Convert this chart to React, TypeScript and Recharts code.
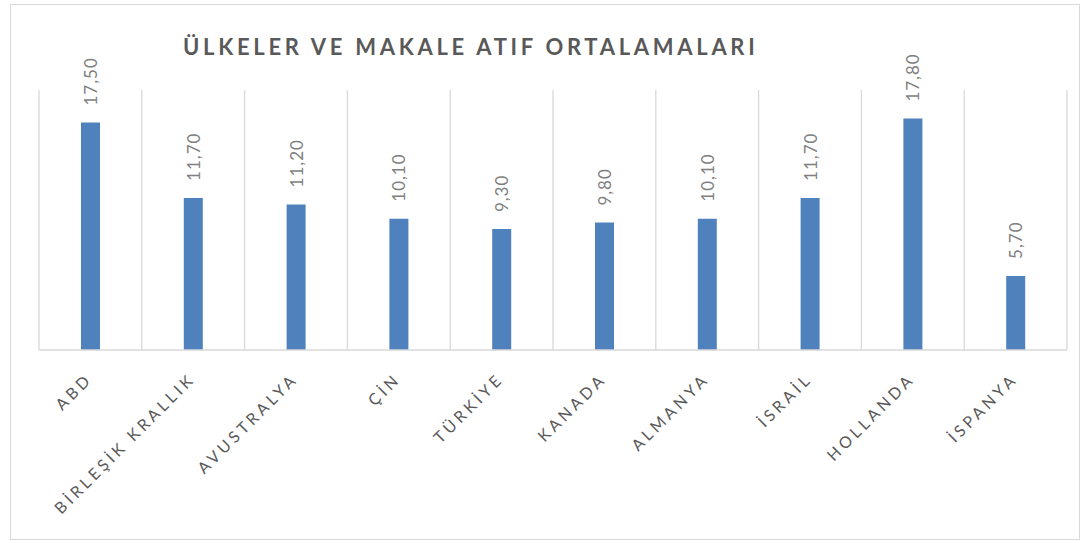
import { BarChart, Bar, XAxis, YAxis, CartesianGrid, LabelList } from "recharts";

const countries = [
  "ABD",
  "BİRLEŞİK KRALLIK",
  "AVUSTRALYA",
  "ÇİN",
  "TÜRKİYE",
  "KANADA",
  "ALMANYA",
  "İSRAİL",
  "HOLLANDA",
  "İSPANYA",
];
const averages = [17.5, 11.7, 11.2, 10.1, 9.3, 9.8, 10.1, 11.7, 17.8, 5.7];

const data = countries.map((name, i) => ({ name, value: averages[i] }));

const FONT = "Lato, 'Open Sans', sans-serif";

const CountryTick = ({ x, y, payload }: any) => (
  <text
    x={x + 3}
    y={y + 22}
    transform={`rotate(-45, ${x + 3}, ${y + 22})`}
    textAnchor="end"
    fill="#595959"
    fontSize={16}
    letterSpacing={3.6}
    fontFamily={FONT}
  >
    {payload.value}
  </text>
);

const ValueLabel = ({ x, y, width, value }: any) => {
  const cx = x + width / 2;
  const ly = y - 17;
  return (
    <text
      x={cx}
      y={ly}
      transform={`rotate(-90, ${cx}, ${ly})`}
      textAnchor="start"
      dominantBaseline="central"
      fill="#7f7f7f"
      fontSize={17}
      letterSpacing={1}
      fontFamily={FONT}
    >
      {Number(value).toFixed(2).replace(".", ",")}
    </text>
  );
};

export default function App() {
  return (
    <div style={{ position: "absolute", left: 0, top: 0, width: 1090, height: 543, background: "#fff" }}>
      <div
        style={{
          position: "absolute",
          left: 10,
          top: 4,
          width: 1070,
          height: 536,
          border: "1px solid #d9d9d9",
          boxSizing: "border-box",
        }}
      />
      <div
        style={{
          position: "absolute",
          left: 183,
          top: 33,
          fontFamily: FONT,
          fontWeight: 700,
          fontSize: 22,
          letterSpacing: 3.7,
          color: "#595959",
          whiteSpace: "nowrap",
        }}
      >
        ÜLKELER VE MAKALE ATIF ORTALAMALARI
      </div>
      <div style={{ position: "absolute", left: 0, top: 0 }}>
        <BarChart
          width={1090}
          height={543}
          data={data}
          margin={{ top: 90, right: 23, left: 39, bottom: 163 }}
        >
          <CartesianGrid
            horizontal={false}
            stroke="#d9d9d9"
            strokeWidth={1.3}
            verticalCoordinatesGenerator={({ offset }: any) =>
              Array.from({ length: countries.length + 1 }, (_, i) => offset.left + (i * offset.width) / countries.length)
            }
          />
          <XAxis
            dataKey="name"
            interval={0}
            height={30}
            tickLine={false}
            axisLine={{ stroke: "#d9d9d9", strokeWidth: 1.3 }}
            tick={<CountryTick />}
          />
          <YAxis hide domain={[0, 20]} />
          <Bar dataKey="value" fill="#4f81bd" barSize={19} isAnimationActive={false}>
            <LabelList dataKey="value" content={<ValueLabel />} />
          </Bar>
        </BarChart>
      </div>
    </div>
  );
}
